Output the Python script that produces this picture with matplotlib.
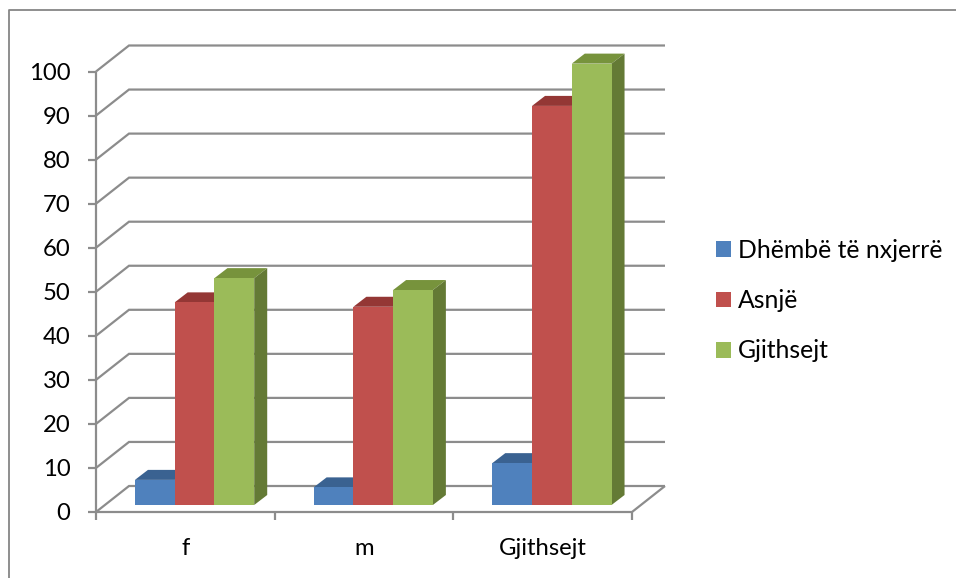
import matplotlib
matplotlib.use("Agg")
import matplotlib.pyplot as plt
from matplotlib.patches import Polygon, Patch
from matplotlib.lines import Line2D

plt.rcParams['font.family'] = ['Lato', 'DejaVu Sans']

categories = ['f', 'm', 'Gjithsejt']
series_names = ['Dhëmbë të nxjerrë', 'Asnjë', 'Gjithsejt']
values = [
    [5.7, 4.0, 9.5],
    [46.0, 45.0, 90.6],
    [51.5, 48.8, 100.2],
]
y_ticks = list(range(0, 101, 10))

front = ['#4F81BD', '#C0504D', '#9BBB59']
top = ['#3A6291', '#943735', '#77933C']
side = ['#34577F', '#7F2F2D', '#647A35']
GRID = '#8C8C8C'
FS = 17.2
LEGEND_FS = 17.8

W, H = 956, 578
fig = plt.figure(figsize=(W / 100, H / 100), dpi=100)
ax = fig.add_axes([96 / W, 1 - 512 / H, (632 - 96) / W, (512 - 71.5) / H])
ax.set_xlim(0, 3)
ax.set_ylim(0, 100)
for s in ax.spines.values():
    s.set_visible(False)
ax.patch.set_visible(False)

# oblique projection, in data units
wall_dx, wall_dy = 33 / (536 / 3), 26 / 4.405
bar_dx, bar_dy = 13 / (536 / 3), 10 / 4.405
floor_x, floor_y = 0.052, 1.59
bar_w = 0.2225
left_gap = 0.166

kw = dict(color=GRID, lw=1.6, clip_on=False, solid_capstyle='butt', solid_joinstyle='miter')
for v in y_ticks:
    ax.add_line(Line2D([0, wall_dx, 3 + wall_dx], [v, v + wall_dy, v + wall_dy], zorder=1, **kw))
ax.add_line(Line2D([0, 3, 3 + wall_dx], [0, 0, wall_dy], zorder=1, **kw))
ax.add_line(Line2D([0, 0], [0, 100], zorder=1, **kw))

z = 3
for i in range(len(categories)):
    for j, vals in enumerate(values):
        x0 = i + left_gap + j * bar_w + floor_x
        x1 = x0 + bar_w
        y0 = floor_y
        y1 = floor_y + vals[i]
        ax.add_patch(Polygon([(x0, y1), (x1, y1), (x1 + bar_dx, y1 + bar_dy), (x0 + bar_dx, y1 + bar_dy)],
                             closed=True, fc=top[j], ec='none', zorder=z, clip_on=False))
        ax.add_patch(Polygon([(x1, y0), (x1 + bar_dx, y0 + bar_dy), (x1 + bar_dx, y1 + bar_dy), (x1, y1)],
                             closed=True, fc=side[j], ec='none', zorder=z, clip_on=False))
        ax.bar(x0, vals[i], width=bar_w, bottom=y0, align='edge', color=front[j], zorder=z + 1, clip_on=False)
        z += 2

ax.set_yticks(y_ticks)
ax.set_xticks(range(len(categories) + 1))
ax.set_xticklabels([])
ax.set_xticks([i + 0.5 for i in range(len(categories))], categories, minor=True)
ax.tick_params(axis='both', which='major', color=GRID, width=1.6, length=6, labelsize=FS, labelcolor='black')
ax.tick_params(axis='y', pad=12.5)
ax.tick_params(axis='x', which='minor', length=0, labelsize=FS, pad=18.5)

handles = [Patch(fc=c, ec='none') for c in front]
fig.legend(handles, series_names, loc='upper left', bbox_to_anchor=(716 / W, 1 - 239 / H),
           frameon=False, fontsize=LEGEND_FS, handlelength=0.61, handleheight=0.61,
           handletextpad=0.29, labelspacing=1.1, borderpad=0, borderaxespad=0)

# outer frame: top and left edges only
fig.add_artist(Line2D([8.5 / W, 8.5 / W, 1], [0, 1 - 9.5 / H, 1 - 9.5 / H], color='#868686', lw=1.3,
                      transform=fig.transFigure))

fig.savefig('out.png', dpi=100, facecolor='white')
